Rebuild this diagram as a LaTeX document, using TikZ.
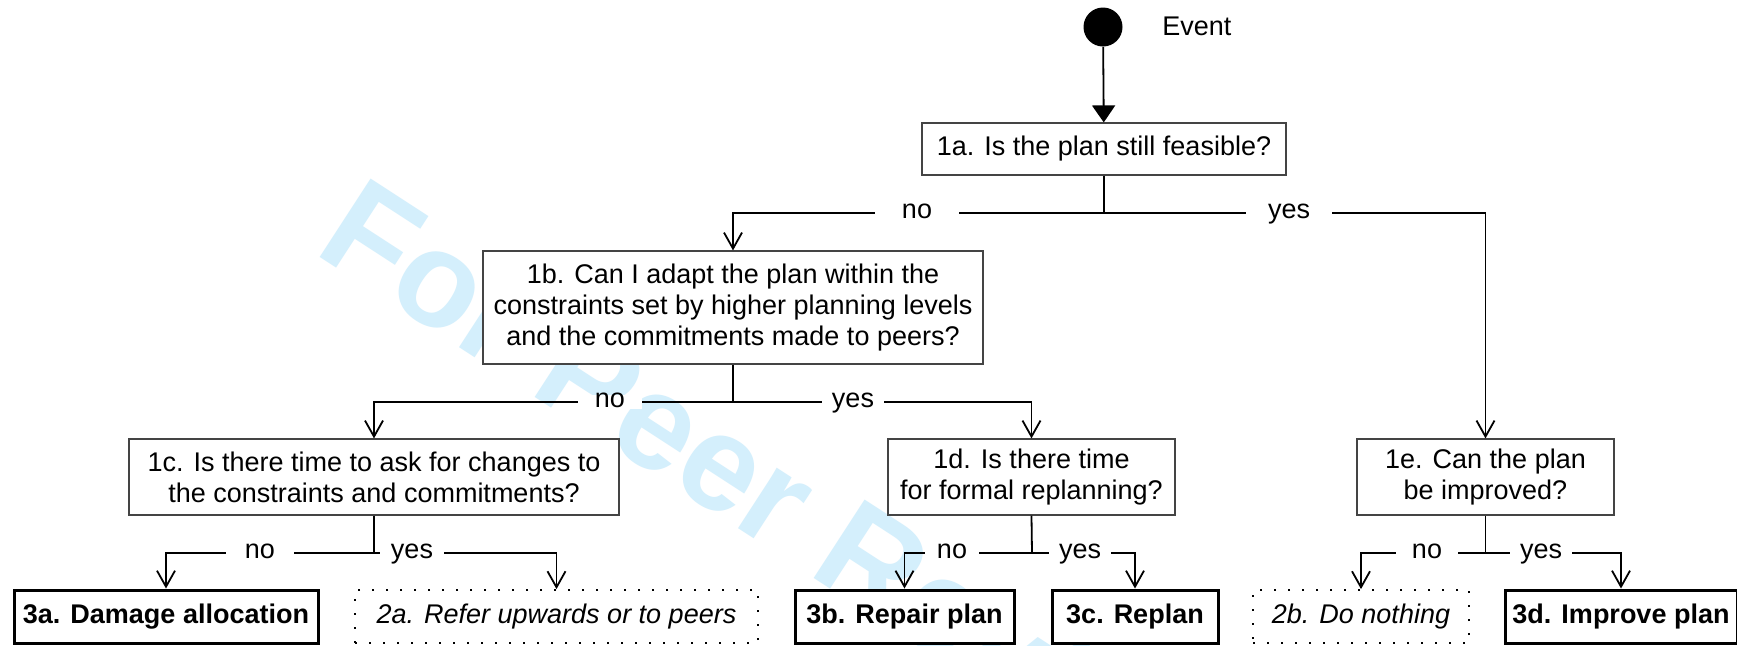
\documentclass[tikz,border=0pt]{standalone}
\usepackage{fontspec}
\setmainfont{Liberation Sans}
\usetikzlibrary{arrows.meta}
\definecolor{wm}{HTML}{D4EFFC}
\definecolor{boxline}{HTML}{444444}
\begin{document}
\begin{tikzpicture}[x=0.5pt,y=-0.5pt,
  font=\fontsize{13.5}{15.6}\selectfont,
  q/.style={draw=boxline, line width=0.6pt, fill=white, align=center, inner sep=0pt},
  fin/.style={draw=black, line width=1.5pt, fill=white, inner sep=0pt, minimum height=26.5pt,
    font=\fontsize{13.5}{15.6}\selectfont\bfseries},
  opt/.style={draw=black, line width=0.9pt, dash pattern=on 0.9pt off 6.1pt, fill=white,
    inner sep=0pt, minimum height=26.5pt, font=\fontsize{13.5}{15.6}\selectfont\itshape},
  wire/.style={line width=0.9pt},
  conn/.style={line width=0.9pt, -{Straight Barb[length=8pt,width=9pt,line width=0.9pt]}},
  lbl/.style={fill=white, text height=0.53em, text depth=0pt, inner ysep=1pt, inner xsep=#1},
  lbl/.default=6pt
]
\useasboundingbox (0,0) rectangle (1737,645);
\fill[white] (0,0) rectangle (1737,645);

% watermark
\node[text=wm, font=\fontsize{68}{68}\selectfont\bfseries, rotate=-33, anchor=base west, inner sep=0pt]
  (wmk) at (312,252) {For Peer Review};

% start event
\node[circle, fill=black, minimum size=19.5pt, inner sep=0pt] (ev) at (1103,27) {};
\node[anchor=west, inner sep=0pt] (evl) at (1162,26) {Event};

% questions
\node[q, minimum width=182pt, minimum height=26pt] (q1a) at (1104,149)
  {1a. Is the plan still feasible?};
\node[q, minimum width=250pt, minimum height=56.5pt] (q1b) at (733,307.5)
  {1b. Can I adapt the plan within the\\constraints set by higher planning levels\\and the commitments made to peers?};
\node[q, minimum width=245pt, minimum height=38pt] (q1c) at (374,477)
  {1c. Is there time to ask for changes to\\the constraints and commitments?};
\node[q, minimum width=143.5pt, minimum height=38pt] (q1d) at (1031.5,477)
  {1d. Is there time\\for formal replanning?};
\node[q, minimum width=128.5pt, minimum height=38pt] (q1e) at (1485.5,477)
  {1e. Can the plan\\be improved?};

% outcomes
\node[fin, minimum width=152pt] (r3a) at (166,616.5) {3a. Damage allocation};
\node[opt, minimum width=201.5pt] (r2a) at (556.5,616.5) {2a. Refer upwards or to peers};
\node[fin, minimum width=109.5pt] (r3b) at (904.5,616.5) {3b. Repair plan};
\node[fin, minimum width=83pt] (r3c) at (1135,616.5) {3c. Replan};
\node[opt, minimum width=108pt] (r2b) at (1361,616.5) {2b. Do nothing};
\node[fin, minimum width=116pt] (r3d) at (1621,616.5) {3d. Improve plan};

% connectors
\draw[line width=0.9pt, -{Triangle[length=8.5pt,width=11.5pt]}] (ev) -- (q1a);

\coordinate (j1) at (1104,213);
\draw[wire] (q1a.south) -- (j1);
\draw[conn] (j1) -| (q1b.north);
\draw[conn] (j1) -| (q1e.north);
\node[lbl=13.5pt] (l1n) at (917,213) {no};
\node[lbl=11pt] (l1y) at (1289,213) {yes};

\coordinate (j2) at (733,402);
\draw[wire] (q1b.south) -- (j2);
\draw[conn] (j2) -| (q1c.north);
\draw[conn] (j2) -| (q1d.north);
\node[lbl=8.5pt] (l2n) at (610,402) {no};
\node[lbl=5pt] (l2y) at (853,402) {yes};

\coordinate (j3) at (374,553);
\draw[wire] (q1c.south) -- (j3);
\draw[conn] (j3) -| (r3a.north);
\draw[conn] (j3) -| (r2a.north);
\node[lbl=9.5pt] (l3n) at (260,553) {no};
\node[lbl=5.5pt] (l3y) at (412,553) {yes};

\coordinate (j4) at (1032,553);
\draw[wire] (q1d.south) -- (j4);
\draw[conn] (j4) -| (r3b.north);
\draw[conn] (j4) -| (r3c.north);
\node[lbl=6pt] (l4n) at (952,553) {no};
\node[lbl=5pt] (l4y) at (1080,553) {yes};

\coordinate (j5) at (1485.5,553);
\draw[wire] (q1e.south) -- (j5);
\draw[conn] (j5) -| (r2b.north);
\draw[conn] (j5) -| (r3d.north);
\node[lbl=8pt] (l5n) at (1427,553) {no};
\node[lbl=5pt] (l5y) at (1541,553) {yes};
\end{tikzpicture}
\end{document}
